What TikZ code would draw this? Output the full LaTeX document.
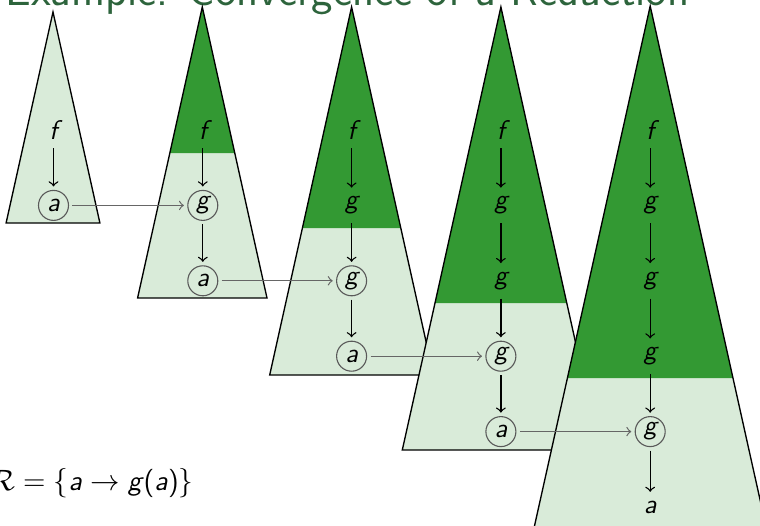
\documentclass[tikz,border=0pt]{standalone}
\usepackage{fontspec}
\definecolor{lightg}{RGB}{217,235,217}
\definecolor{darkg}{RGB}{51,153,51}
\definecolor{titleg}{RGB}{45,100,60}
\begin{document}
\begin{tikzpicture}[x=0.408pt,y=-0.408pt,
  tri/.style={draw=black, line width=0.55pt, fill=lightg},
  outl/.style={draw=black, line width=0.55pt},
  dark/.style={fill=darkg},
  cn/.style={circle, draw=black!65, line width=0.45pt, minimum size=12.24pt, inner sep=0pt, outer sep=1.6pt, font=\fontsize{11}{13}\selectfont\sffamily\itshape},
  pn/.style={inner sep=2.2pt, outer sep=1.4pt, font=\fontsize{11}{13}\selectfont\sffamily\itshape},
  va/.style={->, black, line width=0.55pt},
  ha/.style={->, black!60, line width=0.5pt}]
\useasboundingbox (0,0) rectangle (760,526);
% title (cut off at the top)
\node[anchor=base east, text=titleg, inner sep=0pt, font=\sffamily\fontsize{18.6}{21}\selectfont] (title) at (690,5) {Example: Convergence of a Reduction};
% triangle 1
\filldraw[tri] (53,12) -- (99.9,223) -- (6.1,223) -- cycle;
% triangle 2
\fill[lightg] (202.3,7) -- (267,298) -- (137.6,298) -- cycle;
\fill[dark] (202.3,7) -- (234.8,153) -- (169.8,153) -- cycle;
\draw[outl] (202.3,7) -- (267,298) -- (137.6,298) -- cycle;
% triangle 3
\fill[lightg] (351.6,7) -- (433.5,375) -- (269.7,375) -- cycle;
\fill[dark] (351.6,7) -- (400.8,228) -- (302.4,228) -- cycle;
\draw[outl] (351.6,7) -- (433.5,375) -- (269.7,375) -- cycle;
% triangle 4
\fill[lightg] (500.9,7) -- (599.5,450) -- (402.3,450) -- cycle;
\fill[dark] (500.9,7) -- (566.8,303) -- (435,303) -- cycle;
\draw[outl] (500.9,7) -- (599.5,450) -- (402.3,450) -- cycle;
% triangle 5
\fill[lightg] (650.2,6) -- (766.8,530) -- (533.6,530) -- cycle;
\fill[dark] (650.2,6) -- (733,378) -- (567.4,378) -- cycle;
\draw[outl] (650.2,6) -- (766.8,530) -- (533.6,530) -- cycle;
% nodes tree 1
\node[pn] (t1f) at (53.5,130) {f};
\node[cn] (t1a) at (53.5,205.4) {a};
% tree 2
\node[pn] (t2f) at (202.8,130) {f};
\node[cn] (t2g) at (202.8,205.4) {g};
\node[cn] (t2a) at (202.8,280.8) {a};
% tree 3
\node[pn] (t3f) at (351.6,130) {f};
\node[pn] (t3g1) at (351.6,205.4) {g};
\node[cn] (t3g2) at (351.6,280.8) {g};
\node[cn] (t3a) at (351.6,356.2) {a};
% tree 4
\node[pn] (t4f) at (500.9,130) {f};
\node[pn] (t4g1) at (500.9,205.4) {g};
\node[pn] (t4g2) at (500.9,280.8) {g};
\node[cn] (t4g3) at (500.9,356.2) {g};
\node[cn] (t4a) at (500.9,431.6) {a};
% tree 5
\node[pn] (t5f) at (650.2,130) {f};
\node[pn] (t5g1) at (650.2,205.4) {g};
\node[pn] (t5g2) at (650.2,280.8) {g};
\node[pn] (t5g3) at (650.2,356.2) {g};
\node[cn] (t5g4) at (650.2,431.6) {g};
\node[pn] (t5a) at (650.2,507) {a};
% vertical arrows
\draw[va] (t1f) -- (t1a);
\draw[va] (t2f) -- (t2g);
\draw[va] (t2g) -- (t2a);
\draw[va] (t3f) -- (t3g1);
\draw[va] (t3g1) -- (t3g2);
\draw[va] (t3g2) -- (t3a);
\draw[va] (t4f) -- (t4g1);
\draw[va] (t4g1) -- (t4g2);
\draw[va] (t4g2) -- (t4g3);
\draw[va] (t4g3) -- (t4a);
\draw[va] (t5f) -- (t5g1);
\draw[va] (t5g1) -- (t5g2);
\draw[va] (t5g2) -- (t5g3);
\draw[va] (t5g3) -- (t5g4);
\draw[va] (t5g4) -- (t5a);
% horizontal arrows
\draw[ha] (t1a) -- (t2g);
\draw[ha] (t2a) -- (t3g2);
\draw[ha] (t3a) -- (t4g3);
\draw[ha] (t4a) -- (t5g4);
% rule
\node[anchor=east, inner sep=0pt, font=\fontsize{11.5}{13}\selectfont] (rule) at (194,483) {$\mathcal{R} = \{\textsf{\textit{a}} \rightarrow \textsf{\textit{g}}\textsf{(}\textsf{\textit{a}}\textsf{)}\}$};
\end{tikzpicture}
\end{document}
